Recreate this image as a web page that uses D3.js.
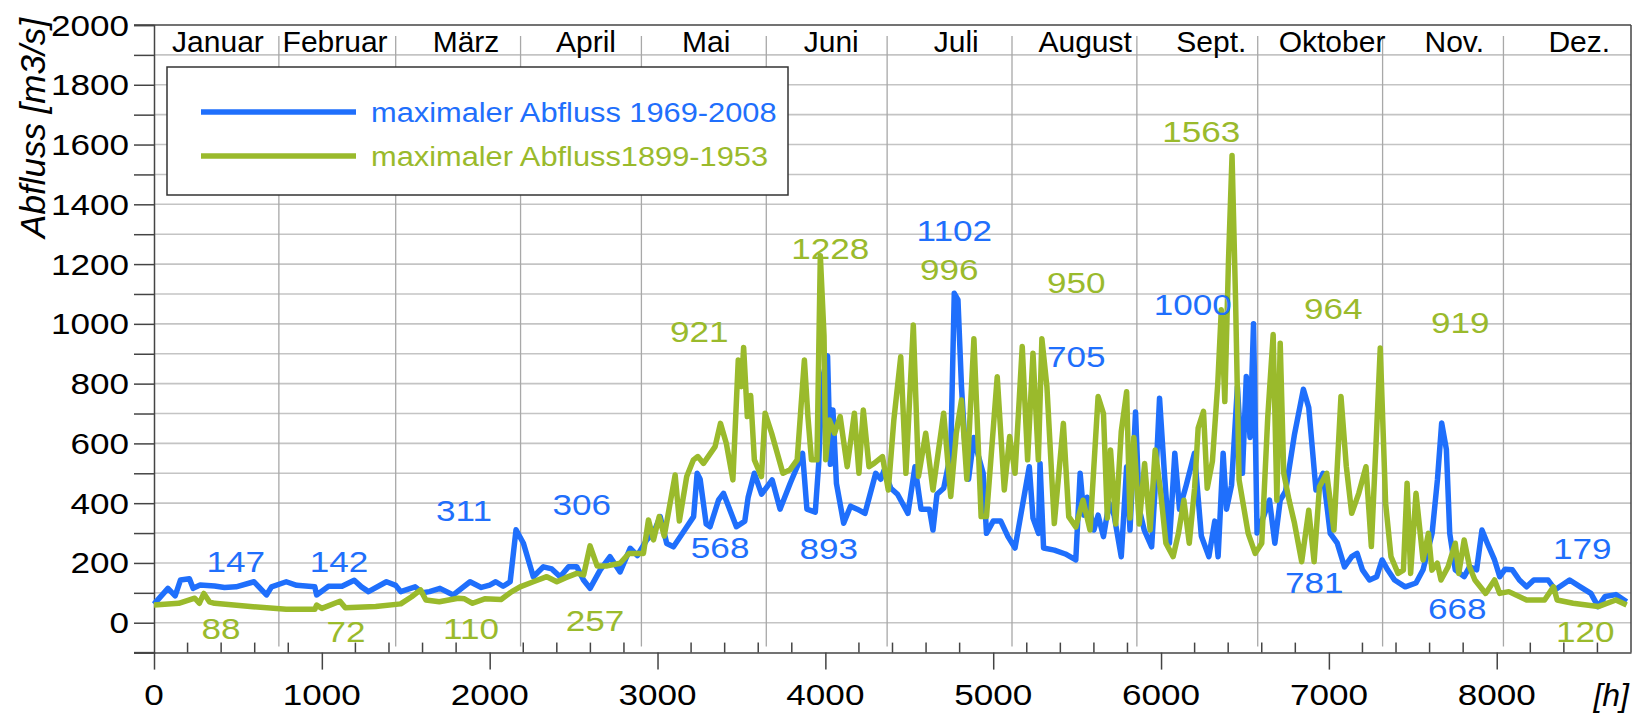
<!DOCTYPE html>
<html>
<head>
<meta charset="utf-8">
<script src="https://cdn.jsdelivr.net/npm/d3@7"></script>
<style>
  body { margin: 0; background: #fff; }
  svg { display: block; font-family: "Liberation Sans", Arial, sans-serif; }
</style>
</head>
<body>
<svg></svg>
<script>
// blue series: maximaler Abfluss 1969-2008, [hour, m3/s]
let blueHours = [0,83,126,158,211,233,275,361,420,489,596,670,700,788,850,958,969,1040,1120,1193,1236,1278,1385,1440,1470,1556,1600,1641,1704,1783,1883,1950,2000,2036,2080,2122,2157,2201,2260,2320,2370,2420,2470,2519,2559,2598,2658,2717,2777,2837,2880,2936,2976,3016,3055,3095,3150,3215,3236,3254,3290,3313,3364,3393,3470,3520,3540,3577,3620,3683,3730,3790,3832,3864,3890,3940,3960,3981,4013,4030,4045,4066,4109,4150,4190,4236,4300,4330,4350,4390,4430,4492,4534,4570,4620,4641,4665,4705,4747,4768,4790,4811,4830,4853,4885,4906,4940,4960,5000,5045,5088,5130,5173,5215,5237,5270,5279,5300,5364,5430,5492,5518,5540,5560,5600,5625,5657,5690,5720,5763,5795,5815,5848,5870,5900,5944,5970,5991,6020,6050,6082,6110,6150,6199,6240,6285,6320,6340,6370,6390,6420,6455,6485,6508,6530,6551,6572,6614,6646,6678,6710,6742,6795,6848,6880,6923,6965,7008,7050,7093,7136,7168,7200,7242,7285,7317,7350,7391,7455,7519,7561,7615,7647,7672,7700,7720,7753,7806,7838,7880,7912,7944,7987,8018,8050,8093,8135,8178,8221,8306,8348,8434,8498,8561,8604,8646,8710,8774];
let blueValues = [62,115,90,143,147,115,126,123,118,120,137,93,120,137,125,120,93,122,122,142,120,104,137,125,104,120,100,104,115,93,137,118,126,137,122,137,311,266,154,187,180,154,187,187,143,115,176,221,170,249,225,277,300,355,265,254,300,355,500,480,330,321,411,433,321,340,420,500,430,478,380,466,522,567,380,370,530,812,893,530,712,466,333,390,380,366,500,480,510,450,430,366,522,380,380,310,430,450,567,1102,1080,790,610,480,620,570,500,299,340,340,288,250,388,522,350,299,533,250,243,230,210,500,360,420,310,360,288,400,360,221,522,310,705,380,310,254,500,751,500,266,567,380,460,567,290,221,340,221,567,380,460,790,500,824,620,1000,300,360,410,266,410,440,630,781,720,444,500,299,266,187,221,232,177,143,154,210,177,143,120,133,177,299,480,668,580,299,177,154,187,177,310,266,210,154,179,177,143,120,143,143,110,143,120,98,54,88,94,70];

// green series: maximaler Abfluss 1899-1953, [hour, m3/s]
let greenHours = [0,147,243,270,297,330,361,574,788,958,969,1000,1108,1140,1321,1470,1535,1588,1620,1700,1812,1850,1898,1970,2068,2132,2181,2260,2340,2400,2450,2519,2560,2598,2640,2700,2777,2830,2916,2946,2976,3010,3040,3105,3130,3174,3214,3240,3274,3343,3375,3410,3449,3481,3500,3513,3535,3555,3577,3619,3641,3680,3747,3790,3832,3875,3896,3917,3950,3970,3992,4002,4024,4055,4088,4130,4173,4200,4226,4260,4290,4340,4375,4408,4449,4480,4524,4555,4598,4641,4705,4747,4780,4811,4843,4885,4928,4960,5024,5066,5098,5130,5173,5205,5237,5269,5290,5320,5364,5418,5450,5492,5535,5577,5625,5657,5680,5699,5730,5763,5795,5815,5838,5870,5902,5935,5965,5997,6029,6072,6104,6136,6168,6200,6221,6253,6275,6306,6338,6359,6380,6402,6423,6444,6465,6519,6561,6600,6636,6668,6690,6710,6731,6763,6795,6838,6880,6912,6944,6987,7030,7072,7104,7136,7178,7221,7253,7285,7306,7338,7370,7412,7444,7466,7487,7519,7561,7593,7614,7646,7668,7710,7753,7774,7806,7838,7870,7934,7987,8018,8072,8178,8285,8338,8360,8455,8604,8710,8774];
let greenValues = [59,65,82,65,98,70,65,54,45,45,59,48,72,50,54,63,87,110,76,70,82,80,65,80,78,104,120,137,154,137,150,165,160,257,190,190,199,232,232,344,277,355,290,494,340,489,545,556,533,589,667,600,478,879,790,921,690,760,545,489,701,634,500,512,545,879,690,545,545,1228,960,545,678,634,690,522,701,500,712,522,533,556,444,678,890,500,996,490,634,444,701,422,634,745,480,950,355,355,823,444,623,500,924,545,902,545,950,790,332,667,355,320,410,310,757,700,350,578,330,640,773,350,620,330,533,310,578,440,266,221,300,410,266,450,651,707,450,540,801,1047,740,1214,1563,1080,478,299,232,266,690,964,410,935,500,410,333,204,376,204,455,500,310,757,522,366,433,522,255,650,919,400,221,165,176,467,165,433,210,299,176,199,143,187,266,165,277,187,143,98,143,98,104,76,76,120,76,65,54,76,59];

// monthly maxima written on the chart: [hour, m3/s] anchor and text
let blueLabelText = ['147','142','311','306','568','893','1102','705','1000','781','668','179'];
let blueLabelHours = [487,1102,1847,2549,3373,4020,4768,5495,6189,6913,7765,8510];
let blueLabelValues = [204,204,377,394,253,250,1314,890,1064,133,46,250];

let greenLabelText = ['88','72','110','257','921','1228','996','950','1563','964','919','120'];
let greenLabelHours = [399,1144,1889,2628,3248,4029,4738,5495,6240,7026,7783,8528];
let greenLabelValues = [-18,-30,-18,9,974,1253,1181,1137,1644,1050,1004,-30];

let months = ['Januar','Februar','März','April','Mai','Juni','Juli','August','Sept.','Oktober','Nov.','Dez.'];
let monthLabelHours = [381,1079,1859,2574,3290,4035,4780,5548,6300,7019,7747,8492];
let monthStarts = [744,1440,2184,2904,3648,4368,5112,5856,6576,7320,8040];

let xTicks = [0,1000,2000,3000,4000,5000,6000,7000,8000];
let yTicks = [0,200,400,600,800,1000,1200,1400,1600,1800,2000];

let legendNames = ['maximaler Abfluss 1969-2008', 'maximaler Abfluss1899-1953'];

let width = 1644;
let height = 713;
let plotLeft = 154;
let plotRight = 1631;
let plotTop = 25;
let plotBottom = 652.6;

let blue = '#1f6ffc';
let green = '#9aba2c';
let numStretch = 1.17;

const svg = d3.select('svg');

let xScale;
let yScale;

let drawCanvas = () => {
    svg.attr('width', width);
    svg.attr('height', height);
}

let generateScales = () => {
    xScale = d3.scaleLinear()
               .domain([0, 8800])
               .range([plotLeft, plotRight]);
    yScale = d3.scaleLinear()
               .domain([-100, 2000])
               .range([plotBottom, plotTop]);
}

let drawGrid = () => {
    let minor = d3.range(0, 2000, 100);
    svg.append('g')
       .selectAll('line')
       .data(minor)
       .enter()
       .append('line')
       .attr('x1', plotLeft)
       .attr('x2', plotRight)
       .attr('y1', (d) => yScale(d))
       .attr('y2', (d) => yScale(d))
       .attr('stroke', '#c4c4c4')
       .attr('stroke-width', 1.6);

    svg.append('g')
       .selectAll('line')
       .data(monthStarts)
       .enter()
       .append('line')
       .attr('x1', (d) => xScale(d))
       .attr('x2', (d) => xScale(d))
       .attr('y1', plotTop + 11)
       .attr('y2', plotBottom - 6)
       .attr('stroke', '#a8a8a8')
       .attr('stroke-width', 1.3);
}

let stretched = (sel, x, y, sx) => {
    sel.attr('transform', 'translate(' + x + ',' + y + ') scale(' + sx + ',1)');
}

let generateAxes = () => {
    // y axis with ticks every 100 outside, labels every 200
    let yAxis = d3.axisLeft(yScale)
                  .tickValues(d3.range(-100, 2001, 100))
                  .tickSize(20)
                  .tickFormat('');
    svg.append('g')
       .attr('id', 'y-axis')
       .attr('transform', 'translate(' + plotLeft + ', 0)')
       .call(yAxis)
       .call((g) => g.selectAll('line').attr('stroke', '#444').attr('stroke-width', 1.5))
       .call((g) => g.select('.domain').attr('stroke', '#444').attr('stroke-width', 1.5));

    svg.append('g')
       .selectAll('text')
       .data(yTicks)
       .enter()
       .append('text')
       .text((d) => d)
       .attr('font-size', 30)
       .attr('text-anchor', 'end')
       .each(function(d) {
           stretched(d3.select(this), plotLeft - 25, yScale(d) + 10.5, numStretch);
       });

    // x axis: major ticks outside, minor ticks inside
    let xAxis = d3.axisBottom(xScale)
                  .tickValues(xTicks)
                  .tickSize(17)
                  .tickSizeOuter(0)
                  .tickFormat('');
    svg.append('g')
       .attr('id', 'x-axis')
       .attr('transform', 'translate(0, ' + plotBottom + ')')
       .call(xAxis)
       .call((g) => g.selectAll('line').attr('stroke', '#444').attr('stroke-width', 1.5))
       .call((g) => g.select('.domain').attr('stroke', '#444').attr('stroke-width', 1.5));

    let minorX = d3.range(200, 8800, 200).filter((d) => d % 1000 != 0);
    svg.append('g')
       .selectAll('line')
       .data(minorX)
       .enter()
       .append('line')
       .attr('x1', (d) => xScale(d))
       .attr('x2', (d) => xScale(d))
       .attr('y1', plotBottom)
       .attr('y2', plotBottom - 10)
       .attr('stroke', '#444')
       .attr('stroke-width', 1.5);

    svg.append('g')
       .selectAll('text')
       .data(xTicks)
       .enter()
       .append('text')
       .text((d) => d)
       .attr('font-size', 30)
       .attr('text-anchor', 'middle')
       .each(function(d) {
           stretched(d3.select(this), xScale(d), 705, numStretch);
       });

    // frame: top and right
    svg.append('line')
       .attr('x1', plotLeft - 20).attr('x2', plotRight)
       .attr('y1', plotTop).attr('y2', plotTop)
       .attr('stroke', '#444').attr('stroke-width', 1.5);
    svg.append('line')
       .attr('x1', plotRight).attr('x2', plotRight)
       .attr('y1', plotTop).attr('y2', plotBottom)
       .attr('stroke', '#444').attr('stroke-width', 1.5);
    svg.append('line')
       .attr('x1', plotLeft - 20).attr('x2', plotLeft)
       .attr('y1', plotBottom).attr('y2', plotBottom)
       .attr('stroke', '#444').attr('stroke-width', 1.5);

    svg.append('text')
       .text('[h]')
       .attr('font-size', 32)
       .attr('font-style', 'italic')
       .attr('text-anchor', 'end')
       .attr('x', plotRight - 2)
       .attr('y', 706);

    svg.append('text')
       .text('Abfluss [m3/s]')
       .attr('font-size', 35)
       .attr('font-style', 'italic')
       .attr('text-anchor', 'middle')
       .attr('transform', 'translate(45, 128) rotate(-90)');

    svg.append('g')
       .selectAll('text')
       .data(months)
       .enter()
       .append('text')
       .text((d) => d)
       .attr('font-size', 30)
       .attr('text-anchor', 'middle')
       .attr('x', (d, i) => xScale(monthLabelHours[i]))
       .attr('y', 52);
}

let drawLines = () => {
    let line = d3.line()
                 .x((d) => xScale(d[0]))
                 .y((d) => yScale(d[1]));

    let green_pts = greenHours.map((h, i) => [h, greenValues[i]]);
    let blue_pts = blueHours.map((h, i) => [h, blueValues[i]]);

    svg.append('path')
       .datum(blue_pts)
       .attr('d', line)
       .attr('fill', 'none')
       .attr('stroke', blue)
       .attr('stroke-width', 5.5)
       .attr('stroke-linejoin', 'round');

    svg.append('path')
       .datum(green_pts)
       .attr('d', line)
       .attr('fill', 'none')
       .attr('stroke', green)
       .attr('stroke-width', 5.5)
       .attr('stroke-linejoin', 'round');
}

let drawLabels = () => {
    let put = (texts, hours, values, color) => {
        svg.append('g')
           .selectAll('text')
           .data(texts)
           .enter()
           .append('text')
           .text((d) => d)
           .attr('font-size', 30)
           .attr('fill', color)
           .attr('text-anchor', 'middle')
           .each(function(d, i) {
               stretched(d3.select(this), xScale(hours[i]), yScale(values[i]) + 10.5, numStretch);
           });
    }
    put(blueLabelText, blueLabelHours, blueLabelValues, blue);
    put(greenLabelText, greenLabelHours, greenLabelValues, green);
}

let drawLegend = () => {
    let lg = svg.append('g');
    lg.append('rect')
      .attr('x', 167)
      .attr('y', 67)
      .attr('width', 621)
      .attr('height', 128)
      .attr('fill', '#fff')
      .attr('stroke', '#333')
      .attr('stroke-width', 1.5);

    let colors = [blue, green];
    let rows = [112, 156];
    legendNames.forEach((name, i) => {
        lg.append('line')
          .attr('x1', 201).attr('x2', 356)
          .attr('y1', rows[i]).attr('y2', rows[i])
          .attr('stroke', colors[i])
          .attr('stroke-width', 5.5);
        lg.append('text')
          .text(name)
          .attr('font-size', 28)
          .attr('fill', colors[i])
          .attr('transform', 'translate(371,' + (rows[i] + 10) + ') scale(1.1,1)');
    });
}

drawCanvas();
generateScales();
drawGrid();
generateAxes();
drawLegend();
drawLines();
drawLabels();
</script>
</body>
</html>
